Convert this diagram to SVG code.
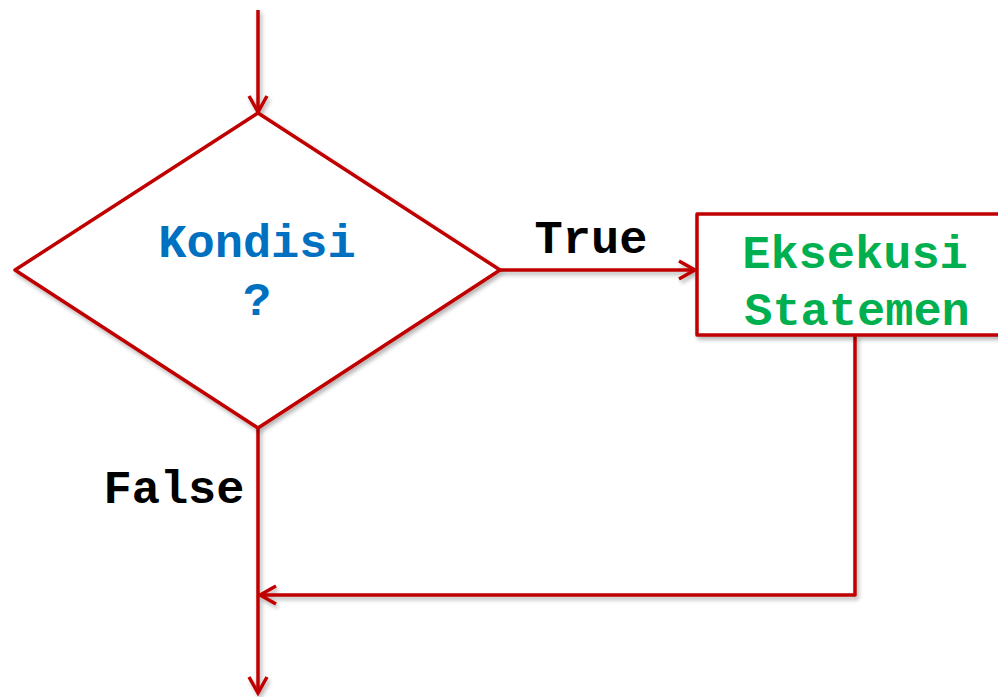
<svg xmlns="http://www.w3.org/2000/svg" width="998" height="697" viewBox="0 0 998 697">
<defs>
<filter id="sh" x="-20%" y="-20%" width="140%" height="140%">
<feGaussianBlur in="SourceAlpha" stdDeviation="2"/>
<feOffset dx="2" dy="3" result="b"/>
<feComponentTransfer><feFuncA type="linear" slope="0.3"/></feComponentTransfer>
<feMerge><feMergeNode/><feMergeNode in="SourceGraphic"/></feMerge>
</filter>
<marker id="arr" viewBox="0 0 24 24" refX="21" refY="12" markerWidth="24" markerHeight="24" markerUnits="userSpaceOnUse" orient="auto">
<path d="M5,3 L21,12 L5,21" fill="none" stroke="#C00000" stroke-width="3.5"/>
</marker>
</defs>
<style>
.ln{fill:none;stroke:#C00000;stroke-width:3.5;stroke-linejoin:round}
.t{font-family:"Liberation Mono","Courier New",monospace;font-weight:bold;font-size:47px}
</style>
<rect width="998" height="697" fill="#fff"/>
<g id="connectors" filter="url(#sh)">
<path class="ln" d="M258,10 L258,112" marker-end="url(#arr)"/>
<path class="ln" d="M500,270 L695,270" marker-end="url(#arr)"/>
<path class="ln" d="M855,335 L855,595 L260,595" marker-end="url(#arr)"/>
<path class="ln" d="M258,428 L258,693" marker-end="url(#arr)"/>
</g>
<g id="decision" filter="url(#sh)">
<polygon class="ln" points="258,113 500,270 258,428 15,270" style="fill:#fff"/>
</g>
<g id="decision-text">
<text class="t" x="257" y="257" text-anchor="middle" fill="#0070C0">Kondisi</text>
<text class="t" x="257" y="315" text-anchor="middle" fill="#0070C0">?</text>
</g>
<g id="process" filter="url(#sh)">
<rect class="ln" x="697" y="214" width="310" height="121" style="fill:#fff"/>
</g>
<g id="process-text">
<text class="t" x="855" y="268" text-anchor="middle" fill="#00B050">Eksekusi</text>
<text class="t" x="857" y="325" text-anchor="middle" fill="#00B050">Statemen</text>
</g>
<g id="labels">
<text class="t" x="591" y="253" text-anchor="middle" fill="#000">True</text>
<text class="t" x="174" y="503" text-anchor="middle" fill="#000">False</text>
</g>
</svg>
